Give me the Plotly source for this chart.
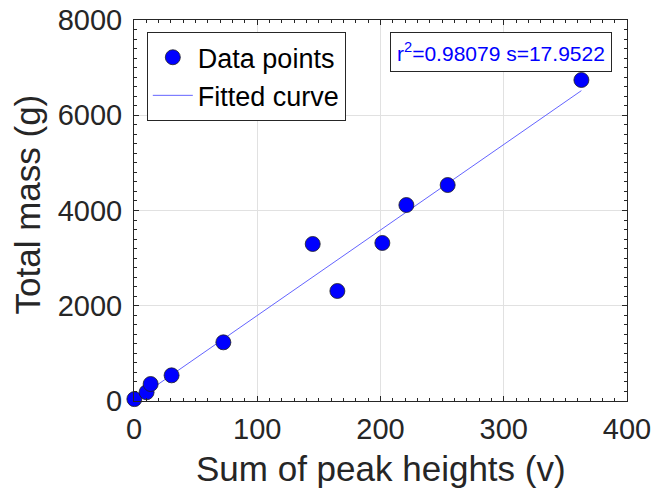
import plotly.graph_objects as go

peak_sum = [0.3, 10.2, 13.5, 30.5, 72.5, 145, 165, 201.5, 221, 254.5, 363]
total_mass = [40, 183, 357, 539, 1232, 3297, 2310, 3318, 4115, 4535, 6740]
slope = 17.9522
r2 = 0.98079
fit_x = [0, max(peak_sum)]
fit_y = [slope * v for v in fit_x]

font = "Liberation Sans, Arial, sans-serif"
fig = go.Figure()
fig.add_trace(go.Scatter(x=fit_x, y=fit_y, mode="lines", name="Fitted curve",
                         line=dict(color="rgb(100,100,255)", width=1), showlegend=False))
fig.add_trace(go.Scatter(x=peak_sum, y=total_mass, mode="markers", name="Data points",
                         cliponaxis=False,
                         marker=dict(color="#0000ff", size=15, line=dict(color="#202020", width=0.8))))
fig.add_trace(go.Scatter(x=[None], y=[None], mode="lines", name="Fitted curve",
                         line=dict(color="rgb(100,100,255)", width=1)))

axis_common = dict(showline=True, linecolor="#262626", linewidth=1, mirror="allticks",
                   ticks="inside", ticklen=5, tickcolor="#262626", showgrid=True,
                   gridcolor="rgb(225,225,225)", gridwidth=1, zeroline=False,
                   automargin=False,
                   tickfont=dict(size=29, color="#262626", family=font))
fig.update_xaxes(range=[0, 400], dtick=100, ticklabelstandoff=2,
                 minor=dict(dtick=10, ticks="inside", ticklen=3, tickcolor="#262626", showgrid=False),
                 **axis_common)
fig.update_yaxes(range=[0, 8000], dtick=2000, ticklabelstandoff=5,
                 minor=dict(dtick=200, ticks="inside", ticklen=3, tickcolor="#262626", showgrid=False),
                 **axis_common)

title_font = dict(size=35, color="#262626", family=font)
fig.add_annotation(xref="paper", yref="paper", x=0.5, y=0, xanchor="center", yanchor="middle",
                   yshift=-67, text="Sum of peak heights (v)", showarrow=False, font=title_font)
fig.add_annotation(xref="paper", yref="paper", x=0, y=0.5, xanchor="center", yanchor="middle",
                   xshift=-107, yshift=6, textangle=-90, text="Total mass (g)",
                   showarrow=False, font=title_font)

fig.add_annotation(xref="paper", yref="paper", x=0.7454, y=0.916,
                   xanchor="center", yanchor="middle",
                   text=f"r<sup>2</sup>={r2} s={slope}", showarrow=False,
                   font=dict(size=21, color="#0000ff", family=font),
                   bordercolor="#262626", borderwidth=1, borderpad=6, bgcolor="white")

fig.update_layout(width=654, height=488, margin=dict(l=134, r=27, t=20, b=87),
                  plot_bgcolor="white", paper_bgcolor="white",
                  font=dict(family=font, color="#262626"),
                  legend=dict(x=0.026, y=0.968, xanchor="left", yanchor="top",
                              bordercolor="#262626", borderwidth=1, bgcolor="white",
                              font=dict(size=27, color="black", family=font),
                              itemwidth=40, tracegroupgap=0))
fig.write_html("out.html", config={"displayModeBar": False},
               post_script="document.body.style.margin='0';")
